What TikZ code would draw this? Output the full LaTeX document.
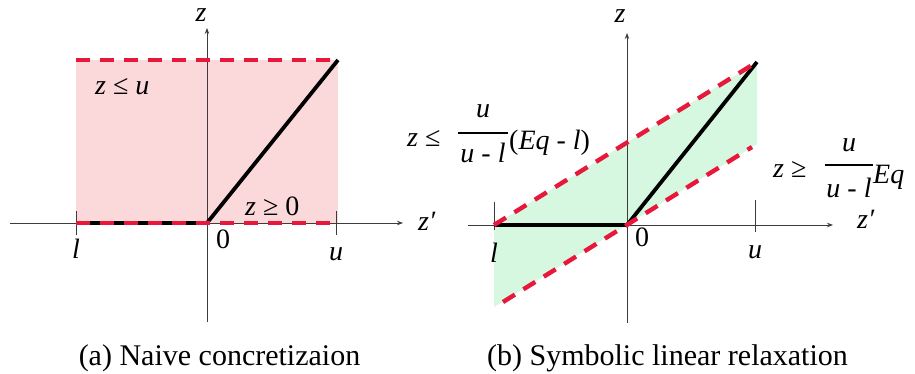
\documentclass[tikz,border=0pt]{standalone}
\usepackage{fontspec}
\setmainfont{Liberation Serif}
\usetikzlibrary{arrows.meta}
\definecolor{dred}{RGB}{232,24,58}
\definecolor{pinkfill}{RGB}{251,216,218}
\definecolor{greenfill}{RGB}{214,248,224}
\definecolor{axisgray}{RGB}{60,60,60}
\tikzset{
  axis/.style={draw=axisgray, line width=0.9pt, -{Stealth[length=6pt,width=4.5pt]}},
  tickline/.style={draw=axisgray, line width=0.9pt},
  relu/.style={draw=black, line width=3.8pt},
  bound/.style={draw=dred, line width=4.4pt, dash pattern=on 14pt off 10pt},
  lbl/.style={inner sep=0pt, anchor=base, font=\fontsize{28}{32}\selectfont},
  lblw/.style={lbl, anchor=base west},
  captxt/.style={inner sep=0pt, anchor=base, font=\fontsize{30}{34}\selectfont},
  fracbar/.style={inner sep=0pt, fill=black, minimum height=1.1pt},
}
\begin{document}
\begin{tikzpicture}[x=1pt,y=-1pt]
\useasboundingbox (0,0) rectangle (915,374);
% ---------- panel (a) ----------
\coordinate (aL) at (76,223);
\coordinate (aO) at (207,223);
\coordinate (aU) at (338,223);
\coordinate (aT) at (338,60);
\coordinate (aTL) at (76,60);
\fill[pinkfill] (aL) rectangle (aT);
\coordinate (axs) at (10,223);
\coordinate (axe) at (403,223);
\coordinate (ays) at (207,322);
\coordinate (aye) at (207,28);
\draw[axis] (axs) -- (axe);
\draw[axis] (ays) -- (aye);
\coordinate (atl1) at (76,211); \coordinate (atl2) at (76,235);
\coordinate (atu1) at (336,211); \coordinate (atu2) at (336,235);
\draw[tickline] (atl1) -- (atl2);
\draw[tickline] (atu1) -- (atu2);
\draw[relu] (aL) -- (aO) -- (aT);
\draw[bound] (aTL) -- (aT);
\draw[bound] (aL) -- (aU);
\node[lbl] (az) at (201,22) {\itshape z};
\node[lblw] (azp) at (418,230) {\itshape z′};
\node[lbl] (al) at (76,258) {\itshape l};
\node[lbl] (au) at (336,260) {\itshape u};
\node[lbl] (a0) at (223,248) {0};
\node[lblw] (aub) at (95,95) {\textit{z} ≤ \textit{u}};
\node[lblw] (alb) at (245,215) {\textit{z} ≥ 0};
\node[captxt] (capa) at (219.5,365) {(a) Naive concretizaion};
% ---------- panel (b) ----------
\coordinate (bL) at (494,225);
\coordinate (bO) at (627,225);
\coordinate (bT) at (757,62);
\coordinate (bR) at (757,144);
\coordinate (bB) at (494,307);
\fill[greenfill] (bL) -- (bT) -- (bR) -- (bB) -- cycle;
\coordinate (bxs) at (468,225);
\coordinate (bxe) at (833,225);
\coordinate (bys) at (627,323);
\coordinate (bye) at (627,33);
\draw[axis] (bxs) -- (bxe);
\draw[axis] (bys) -- (bye);
\coordinate (btl1) at (494,202); \coordinate (btl2) at (494,230);
\coordinate (btu1) at (755,200); \coordinate (btu2) at (755,232);
\draw[tickline] (btl1) -- (btl2);
\draw[tickline] (btu1) -- (btu2);
\draw[relu] (bL) -- (bO) -- (bT);
\coordinate (blo1) at (503,302);
\coordinate (blo2) at (752,147);
\draw[bound] (bL) -- (bT);
\draw[bound] (blo1) -- (blo2);
\node[lbl] (bz) at (620,23) {\itshape z};
\node[lblw] (bzp) at (857,228) {\itshape z′};
\node[lbl] (bl) at (494,262) {\itshape l};
\node[lbl] (bu) at (755,258) {\itshape u};
\node[lbl] (b0) at (642,246) {0};
% upper bound label
\node[lblw] (ubz) at (407,147) {\textit{z} ≤};
\node[fracbar, minimum width=50pt] (ubbar) at (483,133) {};
\node[lbl] (ubnum) at (483,118) {\itshape u};
\node[lbl] (ubden) at (483,163) {\textit{u} - \textit{l}};
\node[lblw] (ubrest) at (509,150) {(\textit{Eq} - \textit{l})};
% lower bound label
\node[lblw] (lbz) at (773,178) {\textit{z} ≥};
\node[fracbar, minimum width=48pt] (lbbar) at (849,165) {};
\node[lbl] (lbnum) at (849,152) {\itshape u};
\node[lbl] (lbden) at (849,197) {\textit{u} - \textit{l}};
\node[lblw] (lbrest) at (873,183) {\itshape Eq};
\node[captxt] (capb) at (667.5,365) {(b) Symbolic linear relaxation};
\end{tikzpicture}
\end{document}
